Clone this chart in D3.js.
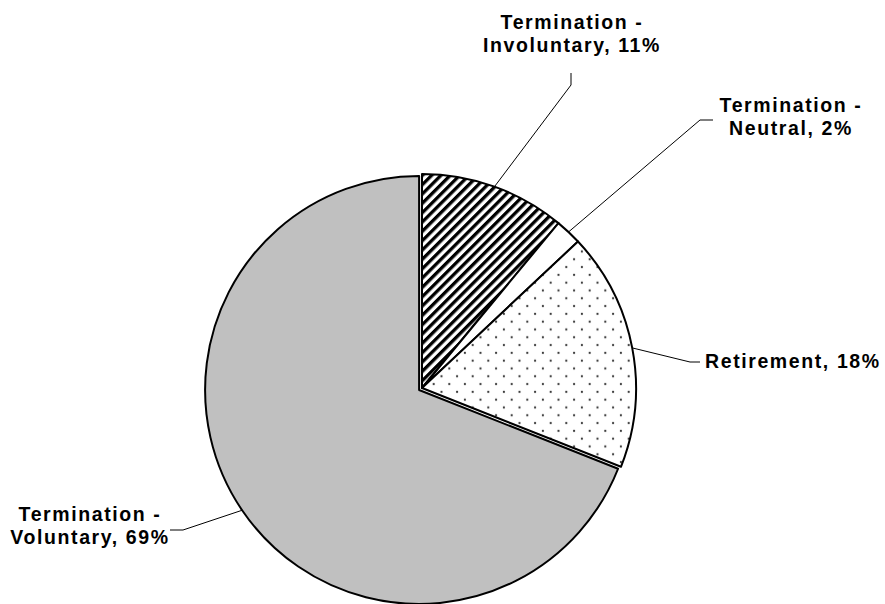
<!DOCTYPE html>
<meta charset="utf-8">
<style>
    body { margin: 0; background: #fff; }
    .slices path { stroke: #000; stroke-width: 2px; stroke-linejoin: round; }
    .leaders polyline { fill: none; stroke: #000; stroke-width: 1px; }
    .labels text {
        font-family: "Liberation Sans", Arial, sans-serif;
        font-weight: bold;
        font-size: 19.5px;
        letter-spacing: 1.6px;
        fill: #000;
    }
</style>
<svg width="885" height="604"></svg>
<script src="https://d3js.org/d3.v7.min.js"></script>
<script>

    // slices, clockwise from 12 o'clock
    var categories = ["Termination - Involuntary", "Termination - Neutral", "Retirement", "Termination - Voluntary"];
    var values = [11, 2, 18, 69];

    // look of each slice
    var fills = ["url(#hatch)", "#ffffff", "url(#dots)", "#c0c0c0"];
    var explode = [0, 0, 0, 3.5];

    // where each label sits: elbow of the leader, end of the leader, text anchor
    var labelLayout = [
        { elbow: [571, 85],  end: [571, 73],  x: 572, y: 29,  anchor: "middle" },
        { elbow: [700, 120], end: [713, 120], x: 791, y: 112, anchor: "middle" },
        { elbow: [690, 362], end: [700, 362], x: 705, y: 368, anchor: "start" },
        { elbow: [183, 530], end: [170, 530], x: 90,  y: 521, anchor: "middle" }
    ];

    var svg = d3.select("svg"),
        cx = 422,
        cy = 388,
        radius = 214,
        lineGap = 23;

    var defs = svg.append("defs");

    var hatch = defs.append("pattern")
        .attr("id", "hatch")
        .attr("patternUnits", "userSpaceOnUse")
        .attr("width", 6.6)
        .attr("height", 6.6)
        .attr("patternTransform", "rotate(45)");
    hatch.append("rect").attr("width", 6.6).attr("height", 6.6).attr("fill", "#fff");
    hatch.append("rect").attr("width", 3.3).attr("height", 6.6).attr("fill", "#000");

    var dots = defs.append("pattern")
        .attr("id", "dots")
        .attr("patternUnits", "userSpaceOnUse")
        .attr("width", 15.6)
        .attr("height", 15.6);
    dots.append("rect").attr("width", 15.6).attr("height", 15.6).attr("fill", "#fff");
    dots.append("circle").attr("cx", 3.9).attr("cy", 3.9).attr("r", 1.1).attr("fill", "#333");
    dots.append("circle").attr("cx", 11.7).attr("cy", 11.7).attr("r", 1.1).attr("fill", "#333");

    var pie = d3.pie().sort(null).value(function(d) { return d; });
    var arcs = pie(values);

    var arc = d3.arc().innerRadius(0).outerRadius(radius);
    var rim = d3.arc().innerRadius(radius).outerRadius(radius);

    function offset(d, i) {
        var a = (d.startAngle + d.endAngle) / 2;
        return [Math.sin(a) * explode[i], -Math.cos(a) * explode[i]];
    }

    var g = svg.append("g").attr("transform", "translate(" + cx + "," + cy + ")");

    g.append("g")
        .attr("class", "slices")
        .selectAll("path")
        .data(arcs)
        .enter().append("path")
        .attr("transform", function(d, i) { return "translate(" + offset(d, i) + ")"; })
        .attr("fill", function(d, i) { return fills[i]; })
        .attr("d", arc);

    svg.append("g")
        .attr("class", "leaders")
        .selectAll("polyline")
        .data(arcs)
        .enter().append("polyline")
        .attr("points", function(d, i) {
            var p = rim.centroid(d), o = offset(d, i);
            var start = [cx + p[0] + o[0], cy + p[1] + o[1]];
            return [start, labelLayout[i].elbow, labelLayout[i].end].join(" ");
        });

    var labels = svg.append("g")
        .attr("class", "labels")
        .selectAll("text")
        .data(arcs)
        .enter().append("text")
        .attr("text-anchor", function(d, i) { return labelLayout[i].anchor; });

    labels.each(function(d, i) {
        var parts = categories[i].split(" - ");
        var lines = parts.length > 1
            ? [parts[0] + " -", parts[1] + ", " + values[i] + "%"]
            : [parts[0] + ", " + values[i] + "%"];
        var t = d3.select(this);
        lines.forEach(function(line, k) {
            t.append("tspan")
                .attr("x", labelLayout[i].x)
                .attr("y", labelLayout[i].y + k * lineGap)
                .text(line);
        });
    });

</script>
